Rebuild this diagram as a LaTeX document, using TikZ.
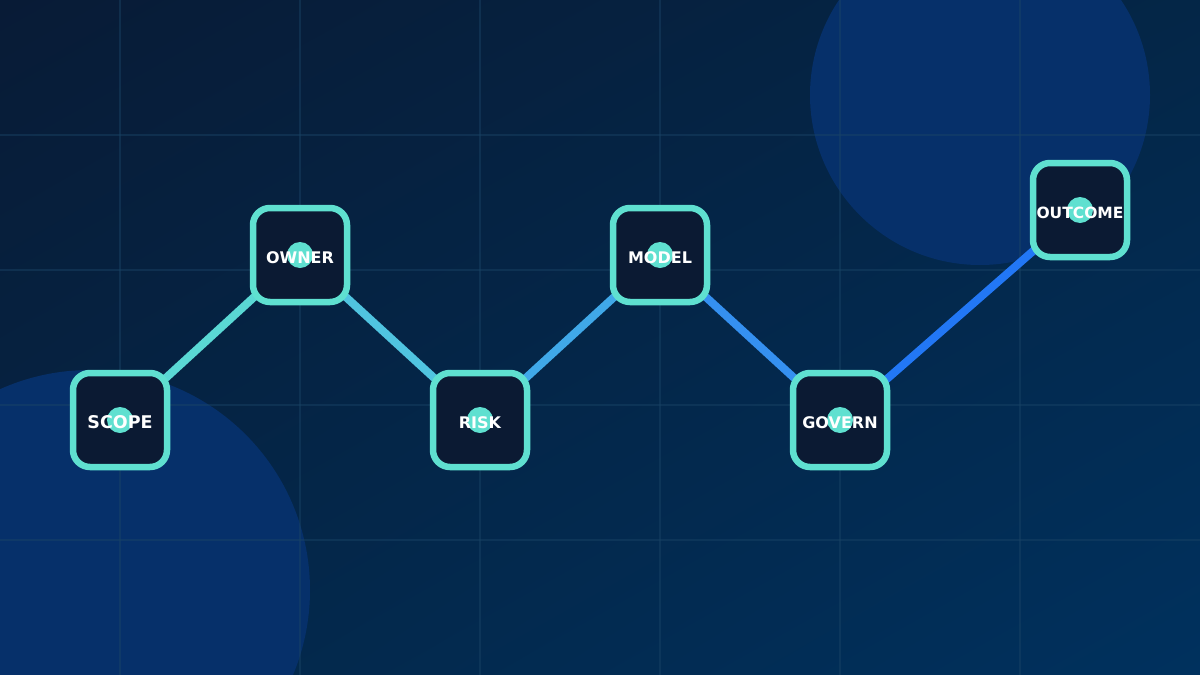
\documentclass[tikz,border=0pt]{standalone}
\usepackage{fontspec}
\setmainfont{DejaVu Sans}
\usetikzlibrary{backgrounds,shadings}
\definecolor{bgA}{HTML}{081B36}
\definecolor{bgM}{HTML}{042647}
\definecolor{bgB}{HTML}{00315E}
\definecolor{blob}{HTML}{06306A}
\definecolor{gridc}{HTML}{1A4466}
\definecolor{boxfill}{HTML}{0B1A33}
\definecolor{teal}{HTML}{5FE0D0}
\definecolor{eA}{HTML}{5AD8D4}
\definecolor{eB}{HTML}{50C4E0}
\definecolor{eC}{HTML}{40A8E8}
\definecolor{eD}{HTML}{3590F0}
\definecolor{eE}{HTML}{2277F5}
\pgfdeclarelayer{edgelayer}
\pgfsetlayers{background,edgelayer,main}
\tikzset{
  stepbox/.style={draw=teal, line width=6.5pt, fill=boxfill, rounded corners=17pt,
    minimum width=94pt, minimum height=94pt, inner sep=0pt, text=white,
    text height=17pt, text depth=0pt,
    font=\bfseries\fontsize{16}{16}\selectfont,
    path picture={\fill[teal] (path picture bounding box.center) circle (13pt);}},
  link/.style={line width=8pt},
  gridline/.style={draw=gridc, line width=1.6pt, opacity=0.45}
}
\begin{document}
\begin{tikzpicture}[x=1pt,y=-1pt]
\useasboundingbox (0,0) rectangle (1200,675);
\begin{scope}[on background layer]
  \shade[upper left=bgA, upper right=bgM, lower left=bgM, lower right=bgB] (0,0) rectangle (1200,675);
  \begin{scope}
    \clip (0,0) rectangle (1200,675);
    \fill[blob] (980,95) circle (170);
    \fill[blob] (90,590) circle (220);
  \end{scope}
  \foreach \x in {120,300,480,660,840,1020} \draw[gridline] (\x,0) -- (\x,675);
  \foreach \y in {135,270,405,540} \draw[gridline] (0,\y) -- (1200,\y);
\end{scope}
\node[stepbox, font=\bfseries\fontsize{17.5}{17.5}\selectfont] (scope) at (120,420) {SCOPE};
\node[stepbox] (owner) at (300,255) {OWNER};
\node[stepbox] (risk) at (480,420) {RISK};
\node[stepbox] (model) at (660,255) {MODEL};
\node[stepbox] (govern) at (840,420) {GOVERN};
\node[stepbox, font=\bfseries\fontsize{15.5}{15.5}\selectfont] (outcome) at (1080,210) {OUTCOME};
\begin{pgfonlayer}{edgelayer}
  \draw[link, eA] (scope.center) -- (owner.center);
  \draw[link, eB] (owner.center) -- (risk.center);
  \draw[link, eC] (risk.center) -- (model.center);
  \draw[link, eD] (model.center) -- (govern.center);
  \draw[link, eE] (govern.center) -- (outcome.center);
\end{pgfonlayer}
\end{tikzpicture}
\end{document}
